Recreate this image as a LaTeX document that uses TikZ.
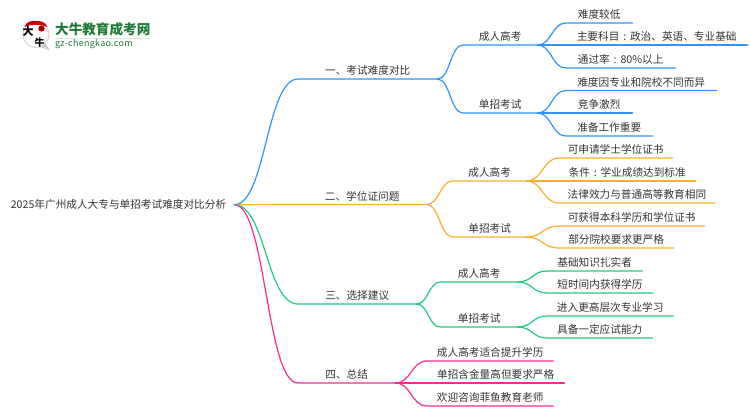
\documentclass[tikz,border=0pt]{standalone}
\usepackage{fontspec}
\usetikzlibrary{calc}
\setmainfont{Noto Sans CJK SC}
\definecolor{cblue}{HTML}{2F92FF}
\definecolor{corange}{HTML}{F7B028}
\definecolor{cgreen}{HTML}{1FCB7C}
\definecolor{cpink}{HTML}{FF2A8C}
\definecolor{logogreen}{HTML}{1E7A34}
\definecolor{ink}{HTML}{333333}
\newcommand{\ccolon}{\makebox[1em][c]{:}}
\tikzset{
  lab/.style={inner xsep=0pt,inner ysep=0pt,anchor=south west,text height=10pt,text depth=4pt,text=ink,font=\fontsize{10.65}{12}\selectfont},
  rootlab/.style={inner sep=0pt,text=ink,font=\fontsize{10.65}{12}\selectfont},
  wire/.style={line width=1.2pt,line cap=round},
}
% \conn{colour}{from-point}{child node}
\newcommand{\conn}[3]{%
  \coordinate (cA) at (#2);
  \coordinate (cB) at (#3.south west);
  \coordinate (cM) at ($(cA)!.5!(cB)$);
  \draw[wire,#1] (cA) .. controls (cM |- cA) and (cM |- cB) .. (cB) -- (#3.south east);
}
\begin{document}
\begin{tikzpicture}[x=1pt,y=-1pt]
\useasboundingbox (0,0) rectangle (750,410);
% logo
\fill[black!18] (40,47) -- (50,50.5) -- (45,43) -- cycle;
\fill[white] (36,34.5) circle (13);
\draw[black!20,line width=.8pt] (36,34.5) circle (13);
\fill[red!80!black] (24.5,27) .. controls (27,20.5) and (32,21) .. (36,21) .. controls (40,21) and (45,21) .. (47.5,27) .. controls (42,24) and (30,24) .. (24.5,27) -- cycle;
\fill[red!65!black] (41.5,28.5) circle (3.2);
\node[inner sep=0pt,text=black,font=\fontsize{11}{11}\bfseries\selectfont] (logoa) at (28,31.5) {大};
\node[inner sep=0pt,text=black,font=\fontsize{10}{10}\bfseries\selectfont] (logob) at (39.5,42.5) {牛};
\node[inner sep=0pt,anchor=west,text=logogreen,font=\fontsize{13.6}{14}\bfseries\selectfont] (logot) at (55,29.5) {大牛教育成考网};
\fill[logogreen!18] (55,38) rectangle (150,39.2);
\node[inner sep=0pt,anchor=west,text=logogreen,font=\fontsize{9}{10}\selectfont] (logou) at (55,44.5) {\addfontfeature{LetterSpace=3}gz-chengkao.com};
% root
\node[rootlab,minimum width=231pt,minimum height=14pt] (root) at (118.5,204.7) {2025年广州成人大专与单招考试难度对比分析};
% level 1
\node[lab,minimum width=139pt] (a1) at (298,79) {一、考试难度对比};
\node[lab,minimum width=128pt] (a2) at (298,204.5) {二、学位证问题};
\node[lab,minimum width=118pt] (a3) at (298,304) {三、选择建议};
\node[lab,minimum width=97pt] (a4) at (298,383) {四、总结};
% level 2
\node[lab,minimum width=74pt] (b1) at (463,45) {成人高考};
\node[lab,minimum width=74pt] (b2) at (463,113) {单招考试};
\node[lab,minimum width=73pt] (b3) at (453,181) {成人高考};
\node[lab,minimum width=73pt] (b4) at (453,237) {单招考试};
\node[lab,minimum width=77pt] (b5) at (440.5,282) {成人高考};
\node[lab,minimum width=77pt] (b6) at (440.5,327) {单招考试};
% leaves
\node[lab,minimum width=66pt] (c1) at (566,23) {难度较低};
\node[lab,minimum width=181pt] (c2) at (566,45) {主要科目\ccolon 政治、英语、专业基础};
\node[lab,minimum width=109pt] (c3) at (566,68) {通过率\ccolon 80\%以上};
\node[lab,minimum width=150pt] (c4) at (566,90.5) {难度因专业和院校不同而异};
\node[lab,minimum width=66pt] (c5) at (566,113) {竞争激烈};
\node[lab,minimum width=86pt] (c6) at (566,136) {准备工作重要};
\node[lab,minimum width=113pt] (c7) at (559,158) {可申请学士学位证书};
\node[lab,minimum width=136pt] (c8) at (559,181) {条件\ccolon 学业成绩达到标准};
\node[lab,minimum width=155.5pt] (c9) at (559,203) {法律效力与普通高等教育相同};
\node[lab,minimum width=145pt] (c10) at (559,226) {可获得本科学历和学位证书};
\node[lab,minimum width=114pt] (c11) at (559,248) {部分院校要求更严格};
\node[lab,minimum width=95pt] (c12) at (547,271) {基础知识扎实者};
\node[lab,minimum width=105.6pt] (c13) at (547,293) {短时间内获得学历};
\node[lab,minimum width=126pt] (c14) at (547,316) {进入更高层次专业学习};
\node[lab,minimum width=105pt] (c15) at (547,338) {具备一定应试能力};
\node[lab,minimum width=126pt] (c16) at (427,361) {成人高考适合提升学历};
\node[lab,minimum width=137pt] (c17) at (427,383) {单招含金量高但要求严格};
\node[lab,minimum width=126pt] (c18) at (427,406) {欢迎咨询菲鱼教育老师};
% connectors
\conn{cgreen}{root.east}{a3}
\conn{cpink}{root.east}{a4}
\conn{corange}{root.east}{a2}
\conn{cblue}{root.east}{a1}
\conn{cblue}{a1.south east}{b1}
\conn{cblue}{a1.south east}{b2}
\conn{corange}{a2.south east}{b3}
\conn{corange}{a2.south east}{b4}
\conn{cgreen}{a3.south east}{b5}
\conn{cgreen}{a3.south east}{b6}
\conn{cblue}{b1.south east}{c1}
\conn{cblue}{b1.south east}{c2}
\conn{cblue}{b1.south east}{c3}
\conn{cblue}{b2.south east}{c4}
\conn{cblue}{b2.south east}{c5}
\conn{cblue}{b2.south east}{c6}
\conn{corange}{b3.south east}{c7}
\conn{corange}{b3.south east}{c8}
\conn{corange}{b3.south east}{c9}
\conn{corange}{b4.south east}{c10}
\conn{corange}{b4.south east}{c11}
\conn{cgreen}{b5.south east}{c12}
\conn{cgreen}{b5.south east}{c13}
\conn{cgreen}{b6.south east}{c14}
\conn{cgreen}{b6.south east}{c15}
\conn{cpink}{a4.south east}{c16}
\conn{cpink}{a4.south east}{c17}
\conn{cpink}{a4.south east}{c18}
\end{tikzpicture}
\end{document}
